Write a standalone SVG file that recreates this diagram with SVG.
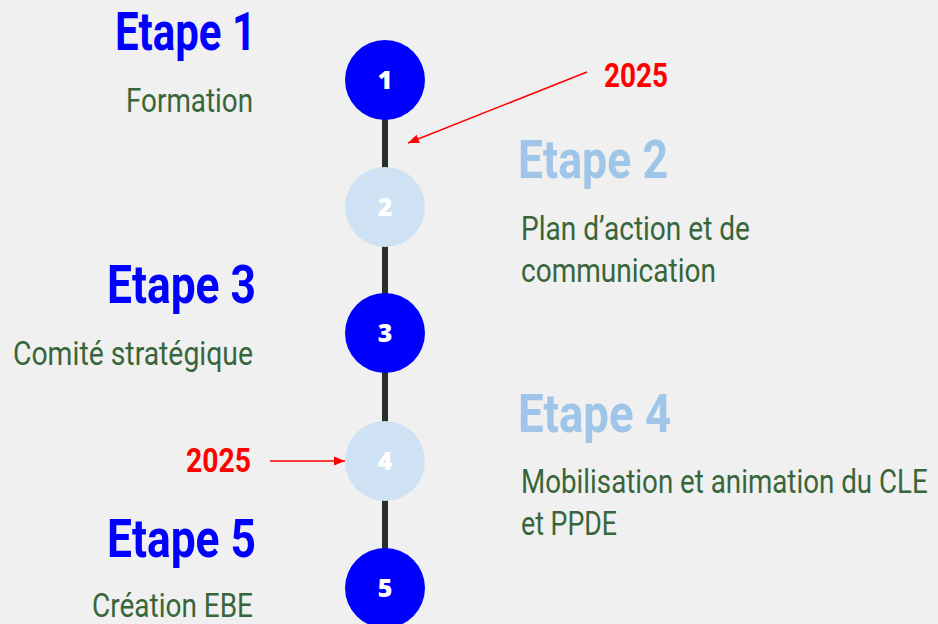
<svg xmlns="http://www.w3.org/2000/svg" width="938" height="624" viewBox="0 0 938 624">
<style>
.t{font-family:"Roboto","Liberation Sans",sans-serif}
.h{font-weight:bold;font-size:53px}
.hd{fill:#0000ff}
.hl{fill:#9fc5e8}
.s{font-size:33px;fill:#38663a}
.y{font-weight:bold;font-size:34px;fill:#ff0000}
.n{font-family:"Open Sans","Liberation Sans",sans-serif;font-weight:800;font-size:25px;fill:#ffffff;text-anchor:middle}
.dk{fill:#0000ff}
.lt{fill:#cfe2f3}
</style>
<defs>
<marker id="ah" viewBox="0 0 10 10" refX="10" refY="5" markerWidth="11" markerHeight="11" markerUnits="userSpaceOnUse" orient="auto">
<path d="M0,1 L10,5 L0,9 z" fill="#ff0000"/>
</marker>
</defs>
<rect width="938" height="624" fill="#f0f0f0"/>
<g id="connectors">
<line x1="385" y1="80" x2="385" y2="588" stroke="#263028" stroke-width="6"/>
<line x1="587" y1="72" x2="408" y2="143" stroke="#ff0000" stroke-width="1.5" marker-end="url(#ah)"/>
<line x1="270" y1="461" x2="345" y2="461" stroke="#ff0000" stroke-width="1.5" marker-end="url(#ah)"/>
</g>
<g id="n1"><circle cx="385" cy="80" r="40" class="dk"/><text x="385" y="89" class="n">1</text></g>
<g id="n2"><circle cx="385" cy="207" r="40" class="lt"/><text x="385" y="216" class="n">2</text></g>
<g id="n3"><circle cx="385" cy="333" r="40" class="dk"/><text x="385" y="342" class="n">3</text></g>
<g id="n4"><circle cx="385" cy="461" r="40" class="lt"/><text x="385" y="470" class="n">4</text></g>
<g id="n5"><circle cx="385" cy="588" r="40" class="dk"/><text x="385" y="597" class="n">5</text></g>
<g id="e1" class="t" text-anchor="end"><text x="256" y="50" class="h hd" textLength="141" lengthAdjust="spacingAndGlyphs">Etape 1</text><text x="253" y="112" class="s" textLength="127" lengthAdjust="spacingAndGlyphs">Formation</text></g>
<g id="e2" class="t"><text x="518" y="178" class="h hl" textLength="150" lengthAdjust="spacingAndGlyphs">Etape 2</text><text x="521" y="240" class="s" textLength="229" lengthAdjust="spacingAndGlyphs">Plan d’action et de</text><text x="521" y="282" class="s" textLength="195" lengthAdjust="spacingAndGlyphs">communication</text></g>
<g id="e3" class="t" text-anchor="end"><text x="256" y="303" class="h hd" textLength="149" lengthAdjust="spacingAndGlyphs">Etape 3</text><text x="253" y="365" class="s" textLength="240" lengthAdjust="spacingAndGlyphs">Comité stratégique</text></g>
<g id="e4" class="t"><text x="518" y="432" class="h hl" textLength="153" lengthAdjust="spacingAndGlyphs">Etape 4</text><text transform="translate(521,493) scale(0.86,1)" x="0" y="0" class="s" textLength="473" lengthAdjust="spacingAndGlyphs">Mobilisation et animation du CLE</text><text x="521" y="535" class="s" textLength="96" lengthAdjust="spacingAndGlyphs">et PPDE</text></g>
<g id="e5" class="t" text-anchor="end"><text x="256" y="557" class="h hd" textLength="149" lengthAdjust="spacingAndGlyphs">Etape 5</text><text x="253" y="617" class="s" textLength="161" lengthAdjust="spacingAndGlyphs">Création EBE</text></g>
<g id="y1" class="t"><text x="604" y="87" class="y" textLength="64" lengthAdjust="spacingAndGlyphs">2025</text></g>
<g id="y2" class="t"><text x="186" y="472" class="y" textLength="65" lengthAdjust="spacingAndGlyphs">2025</text></g>
</svg>
